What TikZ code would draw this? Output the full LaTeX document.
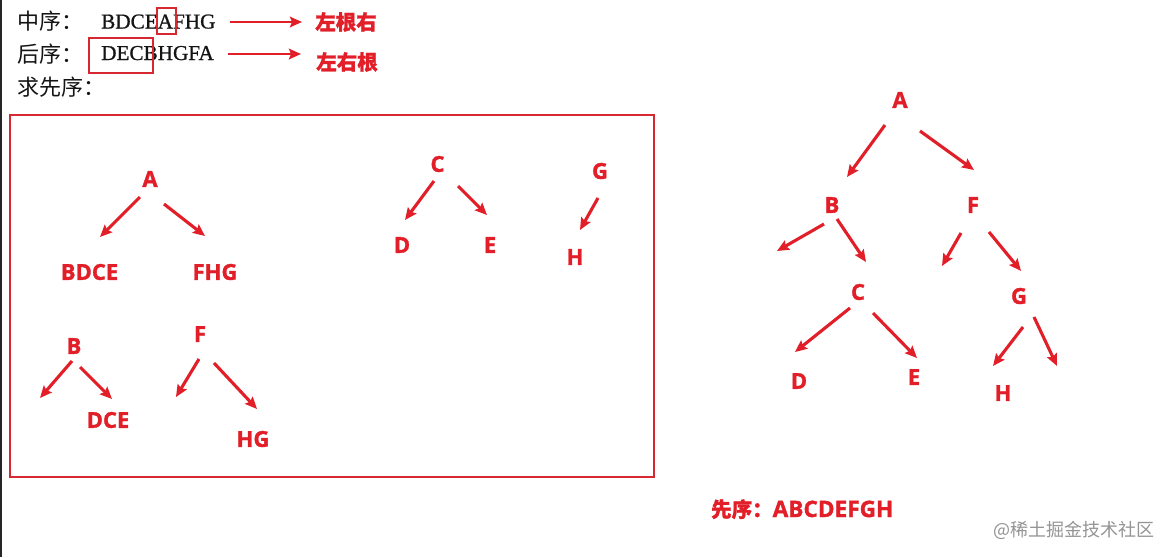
\documentclass[tikz,border=0pt]{standalone}
\usepackage{fontspec}
\setmainfont{Liberation Serif}
\newfontfamily\hdrlatf{Liberation Serif}[FakeBold=0.9]
\newfontfamily\cjk{Noto Sans CJK SC}[BoldFeatures={FakeBold=1.2}]
\newfontfamily\lblf{Open Sans}[BoldFeatures={FakeBold=1.4}]
\usetikzlibrary{arrows.meta}
\definecolor{rd}{RGB}{226,30,40}
\definecolor{bx}{RGB}{215,40,50}
\begin{document}
\begin{tikzpicture}[x=1pt,y=-1pt,
  hdrcjk/.style={inner sep=0pt,font=\cjk\fontsize{22}{22}\selectfont,text=black!92},
  hdrlat/.style={inner sep=0pt,font=\hdrlatf\fontsize{21.2}{22}\selectfont,text=black!92},
  redcjk/.style={inner sep=0pt,text=rd,font=\cjk\bfseries\fontsize{20.5}{21}\selectfont},
  lbl/.style={inner sep=0pt,text=rd,font=\lblf\bfseries\fontsize{22}{22}\selectfont},
  arr/.style={draw=rd,line width=3.1pt,-{Stealth[length=12pt,width=10.5pt,inset=2pt]}},
  harr/.style={draw=rd,line width=2.8pt,-{Stealth[length=12pt,width=10.5pt,inset=2pt]}},
  markbox/.style={draw=bx,line width=1.5pt,inner sep=0pt}]
\useasboundingbox (0,0) rectangle (1170,557);
\fill[white] (0,0) rectangle (1170,557);
\draw[black!85,line width=1.6pt] (1,0) -- (1,557);

% header
\node[hdrcjk,anchor=base west] (t1) at (17,29) {中序：};
\node[hdrlat,anchor=base west] (s1) at (101,28.5) {BDCEAFHG};
\node[hdrcjk,anchor=base west] (t2) at (17,62) {后序：};
\node[hdrlat,anchor=base west] (s2) at (101,60) {DECBHGFA};
\node[hdrcjk,anchor=base west] (t3) at (17,95) {求先序：};
\node[markbox,minimum width=19pt,minimum height=26pt] (m1) at (166.5,21) {};
\node[markbox,minimum width=64pt,minimum height=35pt] (m2) at (121,55.5) {};
\coordinate (h1s) at (230,22); \coordinate (h1e) at (302,22);
\coordinate (h2s) at (228,54); \coordinate (h2e) at (301,54);
\node[redcjk] (r1) at (346,22) {左根右};
\node[redcjk] (r2) at (347,62) {左右根};
\draw[harr] (h1s) -- (h1e);
\draw[harr] (h2s) -- (h2e);

% left box
\node[draw=bx,line width=1.7pt,minimum width=644pt,minimum height=362pt,inner sep=0pt] (frame) at (332,296) {};

\node[lbl] (LA) at (150,179) {A};
\node[lbl] (LBDCE) at (89.5,272) {BDCE};
\node[lbl] (LFHG) at (215,272) {FHG};
\coordinate (a1s) at (140,197); \coordinate (a1e) at (100,237);
\coordinate (a2s) at (164,204); \coordinate (a2e) at (205,236);
\draw[arr] (a1s) -- (a1e);
\draw[arr] (a2s) -- (a2e);

\node[lbl] (LC) at (437.5,164) {C};
\node[lbl] (LD) at (402,245) {D};
\node[lbl] (LE) at (490,245) {E};
\coordinate (c1s) at (434,181); \coordinate (c1e) at (405,220);
\coordinate (c2s) at (458,186); \coordinate (c2e) at (487,215);
\draw[arr] (c1s) -- (c1e);
\draw[arr] (c2s) -- (c2e);

\node[lbl] (LG) at (600,171) {G};
\node[lbl] (LH) at (575,257) {H};
\coordinate (g1s) at (598,198); \coordinate (g1e) at (580,230);
\draw[arr] (g1s) -- (g1e);

\node[lbl] (LB) at (74,346) {B};
\node[lbl] (LDCE) at (108,420) {DCE};
\coordinate (b1s) at (72,361); \coordinate (b1e) at (40,398);
\coordinate (b2s) at (80,367); \coordinate (b2e) at (112,399);
\draw[arr] (b1s) -- (b1e);
\draw[arr] (b2s) -- (b2e);

\node[lbl] (LF) at (200,334) {F};
\node[lbl] (LHG) at (253,439) {HG};
\coordinate (f1s) at (199,359); \coordinate (f1e) at (176,397);
\coordinate (f2s) at (214,363); \coordinate (f2e) at (257,409);
\draw[arr] (f1s) -- (f1e);
\draw[arr] (f2s) -- (f2e);

% right tree
\node[lbl] (RA) at (900,100) {A};
\node[lbl] (RB) at (832,205) {B};
\node[lbl] (RF) at (973,205) {F};
\node[lbl] (RC) at (858,292) {C};
\node[lbl] (RG) at (1019,296) {G};
\node[lbl] (RD) at (799,381) {D};
\node[lbl] (RE) at (914,377) {E};
\node[lbl] (RH) at (1003,393) {H};
\coordinate (ra1s) at (885,125); \coordinate (ra1e) at (847,177);
\coordinate (ra2s) at (920,131); \coordinate (ra2e) at (974,170);
\coordinate (rb1s) at (824,224); \coordinate (rb1e) at (777,251);
\coordinate (rb2s) at (837,219); \coordinate (rb2e) at (866,262);
\coordinate (rf1s) at (961,233); \coordinate (rf1e) at (942,266);
\coordinate (rf2s) at (989,232); \coordinate (rf2e) at (1021,271);
\coordinate (rc1s) at (850,308); \coordinate (rc1e) at (795,352);
\coordinate (rc2s) at (873,313); \coordinate (rc2e) at (917,358);
\coordinate (rg1s) at (1023,327); \coordinate (rg1e) at (993,366);
\coordinate (rg2s) at (1034,317); \coordinate (rg2e) at (1057,366);
\draw[arr] (ra1s) -- (ra1e);
\draw[arr] (ra2s) -- (ra2e);
\draw[arr] (rb1s) -- (rb1e);
\draw[arr] (rb2s) -- (rb2e);
\draw[arr] (rf1s) -- (rf1e);
\draw[arr] (rf2s) -- (rf2e);
\draw[arr] (rc1s) -- (rc1e);
\draw[arr] (rc2s) -- (rc2e);
\draw[arr] (rg1s) -- (rg1e);
\draw[arr] (rg2s) -- (rg2e);

% result
\node[inner sep=0pt,anchor=base west,text=rd] (res) at (711,517)
  {{\cjk\bfseries\fontsize{20.5}{21}\selectfont 先序：}{\lblf\bfseries\fontsize{22.6}{22}\selectfont ABCDEFGH}};

% watermark
\node[inner sep=0pt,anchor=base west,text=black!42,font=\cjk\fontsize{18}{18}\selectfont] (wm) at (993,536) {@稀土掘金技术社区};
\end{tikzpicture}
\end{document}
